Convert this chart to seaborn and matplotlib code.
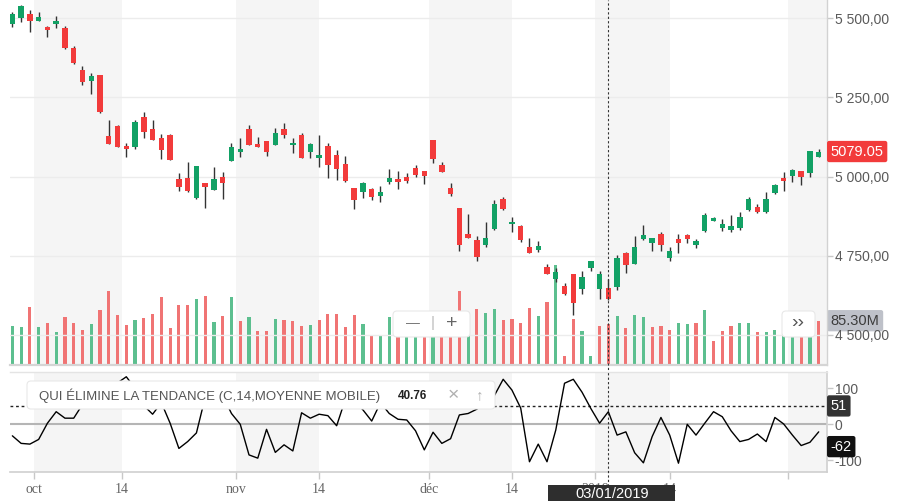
import numpy as np
import pandas as pd
import matplotlib
matplotlib.use("Agg")
import matplotlib.pyplot as plt
import seaborn as sns
from matplotlib.patches import FancyBboxPatch, Rectangle
from matplotlib.transforms import Affine2D, blended_transform_factory

# ---------------- data ----------------
sessions = pd.bdate_range("2018-09-26", "2019-02-06")
sessions = sessions[~sessions.isin(pd.to_datetime(["2018-12-25", "2018-12-26", "2019-01-01"]))]

opens = [5482, 5500, 5514, 5492, 5473, 5483, 5470, 5407, 5338, 5303,
         5322, 5128, 5161, 5097, 5094, 5188, 5150, 5123, 5132, 4992,
         4995, 4931, 4980, 4958, 4998, 5050, 5078, 5150, 5103, 5112,
         5101, 5150, 5099, 5131, 5078, 5060, 5096, 5068, 5040, 4964,
         4952, 4960, 4939, 4984, 4992, 4999, 5027, 5017, 5115, 5036,
         4963, 4901, 4818, 4799, 4784, 4833, 4928, 4849, 4844, 4776,
         4768, 4715, 4677, 4654, 4692, 4645, 4710, 4645, 4649, 4650,
         4759, 4724, 4803, 4791, 4818, 4744, 4803, 4815, 4784, 4829,
         4860, 4836, 4831, 4836, 4894, 4903, 4889, 4947, 4994, 5002,
         5017, 5012, 5061]
highs = [5521, 5542, 5526, 5519, 5476, 5507, 5476, 5412, 5348, 5327,
         5322, 5179, 5163, 5107, 5179, 5204, 5179, 5133, 5133, 5010,
         5045, 5034, 4980, 5029, 5013, 5105, 5122, 5162, 5125, 5112,
         5153, 5168, 5121, 5138, 5105, 5131, 5105, 5084, 5065, 4964,
         4984, 4963, 4970, 5023, 5017, 5010, 5037, 5017, 5115, 5045,
         4979, 4901, 4882, 4812, 4855, 4926, 4936, 4871, 4847, 4805,
         4797, 4724, 4711, 4664, 4692, 4701, 4733, 4701, 4675, 4752,
         4762, 4813, 4847, 4806, 4824, 4776, 4817, 4818, 4803, 4886,
         4871, 4865, 4878, 4887, 4934, 4913, 4950, 4975, 5015, 5023,
         5017, 5082, 5086]
lows = [5472, 5488, 5458, 5490, 5440, 5469, 5402, 5355, 5290, 5260,
        5200, 5102, 5093, 5061, 5086, 5121, 5115, 5056, 5051, 4955,
        4951, 4928, 4900, 4958, 4930, 5050, 5061, 5101, 5094, 5066,
        5099, 5121, 5073, 5060, 5058, 5029, 4994, 4989, 4982, 4896,
        4931, 4926, 4919, 4976, 4960, 4980, 4998, 4975, 5042, 5015,
        4938, 4765, 4807, 4734, 4776, 4830, 4894, 4826, 4792, 4757,
        4762, 4691, 4667, 4625, 4563, 4629, 4701, 4612, 4610, 4641,
        4694, 4724, 4800, 4765, 4765, 4733, 4759, 4789, 4773, 4826,
        4859, 4827, 4824, 4831, 4892, 4884, 4884, 4945, 4955, 4984,
        4973, 4998, 5061]
closes = [5514, 5540, 5492, 5504, 5464, 5491, 5405, 5359, 5300, 5318,
          5205, 5103, 5094, 5088, 5172, 5142, 5116, 5085, 5052, 4968,
          4954, 5034, 4968, 4991, 4981, 5094, 5088, 5101, 5094, 5077,
          5138, 5132, 5107, 5060, 5103, 5068, 5035, 5024, 4985, 4926,
          4980, 4936, 4951, 4995, 4984, 4986, 5006, 5003, 5056, 5015,
          4944, 4784, 4807, 4747, 4805, 4913, 4897, 4857, 4800, 4757,
          4780, 4692, 4698, 4629, 4601, 4683, 4733, 4692, 4613, 4742,
          4720, 4776, 4815, 4805, 4784, 4765, 4789, 4803, 4797, 4878,
          4870, 4849, 4844, 4871, 4928, 4889, 4929, 4972, 4987, 5021,
          4999, 5081.6, 5079.05]
volumes_m = [75.4, 73.5, 112.9, 73.5, 81.3, 63.6, 93.2, 81.3, 67.0, 78.2,
             106.4, 144.4, 97.1, 76.8, 86.7, 91.2, 99.1, 132.6, 71.5, 116.8,
             116.8, 128.6, 134.5, 82.1, 95.1, 132.6, 85.3, 93.2, 65.6, 65.6,
             88.6, 86.7, 85.3, 75.4, 77.4, 87.3, 99.1, 99.1, 73.5, 97.1,
             79.4, 55.7, 57.7, 93.2, 80.0, 75.0, 85.0, 78.0, 100.0, 90.0,
             85.0, 144.4, 57.0, 107.7, 99.9, 107.7, 86.7, 88.6, 81.3, 110.9,
             94.5, 122.7, 195.0, 15.8, 88.6, 65.6, 15.8, 75.4, 78.2, 95.1,
             71.5, 96.5, 92.0, 73.5, 74.8, 67.0, 81.3, 78.8, 81.3, 106.4,
             45.9, 65.6, 75.4, 81.3, 81.3, 63.0, 63.0, 67.0, 70.0, 72.0,
             68.0, 90.0, 85.3]
dpo = [-32, -53, -55, -42, 3, 35, 17, 17, 55, 80,
       100, 112, 115, 132, 100, 52, 28, 60, 3, -67,
       -48, -24, 75, 100, 80, 30, 0, -85, -94, -14,
       -78, -57, -74, 32, 17, 28, 24, -4, 70, 65,
       40, 9, 60, 30, 14, 12, -18, -71, -22, -53,
       -40, 26, 30, 42, 65, 80, 125, 95, 45, -104,
       -55, -104, -16, 114, 125, 89, 44, 3, 35, -30,
       -21, -79, -107, -34, 19, -30, -108, 0, -30, 3,
       35, 21, -18, -48, -42, -27, -48, 19, 1, -30,
       -59, -50, -21]

tick_pos = [2.5, 12.5, 25.5, 35.0, 47.5, 57.0, 66.5, 75.0, 88.5]
tick_labels = ["oct", "14", "nov", "14", "déc", "14", "2019", "14", ""]
price_ticks = [4500, 4750, 5000, 5250, 5500]
price_tick_labels = ["4 500,00", "4 750,00", "5 000,00", "5 250,00", "5 500,00"]
ind_ticks = [-100, 0, 100]
ind_tick_labels = ["-100", "0", "100"]
cursor_date = "2019-01-03"
cursor_value = 51
ind_last_label = -62
indicator_name = "QUI ÉLIMINE LA TENDANCE (C,14,MOYENNE MOBILE)"
indicator_value = "40.76"

df = pd.DataFrame({"date": sessions, "open": opens, "high": highs, "low": lows,
                   "close": closes, "volume": volumes_m, "dpo": dpo})
df["i"] = np.arange(len(df))
df["up"] = df["close"] >= df["open"]
df["vol_up"] = df["close"].diff().fillna(1) >= 0

# ---------------- style ----------------
sns.set_theme(style="white")
plt.rcParams["font.family"] = ["Liberation Sans", "DejaVu Sans"]

UP, DOWN = "#12a165", "#f23b3b"
VUP, VDOWN = "#5cbf8f", "#f07474"
SHADE = "#f5f5f5"
AXCOL = "#d2d2d2"

W, H = 897, 501
fig = plt.figure(figsize=(W / 100, H / 100), dpi=100)
fig.patch.set_facecolor("white")
pixb = Affine2D().scale(1 / W, 1 / H) + fig.transFigure


def rect_px(x0, y0, x1, y1):
    return [x0 / W, 1 - y1 / H, (x1 - x0) / W, (y1 - y0) / H]


L, R = 10, 826.5
ax_vol = fig.add_axes(rect_px(L, 0, R, 365))
ax_price = fig.add_axes(rect_px(L, 0, R, 365), sharex=ax_vol)
ax_ind = fig.add_axes(rect_px(L, 372.3, R, 472.3), sharex=ax_vol)
ax_vol.set_zorder(0)
ax_price.set_zorder(1)
ax_price.patch.set_visible(False)
ax_ind.set_zorder(1)

ax_vol.set_xlim(-0.27, 92.89)

# shaded half-month bands
starts = tick_pos[0::2]
ends = tick_pos[1::2] + [ax_vol.get_xlim()[1] + 1]
for a, b in zip(starts, ends):
    ax_vol.axvspan(a, b, color=SHADE, lw=0, zorder=0)
    ax_ind.axvspan(a, b, color=SHADE, lw=0, zorder=0)

# volume
ax_vol.bar(df["i"], df["volume"], width=0.36,
           color=np.where(df["vol_up"], VUP, VDOWN), lw=0, zorder=1)
ax_vol.set_ylim(-2, 717)
ax_vol.set_yticks([])
ax_vol.tick_params(axis="x", bottom=False, labelbottom=False)
for s in ax_vol.spines.values():
    s.set_visible(False)

# candles
ax_price.vlines(df["i"], df["low"], df["high"], color="#333333", lw=1, zorder=2)
body_lo = np.minimum(df["open"], df["close"])
body_h = np.maximum(np.abs(df["close"] - df["open"]), 3)
ax_price.bar(df["i"], body_h, bottom=body_lo, width=0.62,
             color=np.where(df["up"], UP, DOWN), lw=0, zorder=3)
ax_price.set_ylim(4404.6, 5557.8)
ax_price.set_yticks(price_ticks, price_tick_labels)
ax_price.yaxis.tick_right()
ax_price.tick_params(axis="y", right=True, left=False, length=4, width=1, color="#c8c8c8",
                     labelsize=10, labelcolor="#5a5a5a", pad=2)
ax_price.tick_params(axis="x", bottom=False, labelbottom=False)
ax_price.grid(axis="y", color="#ececec", lw=1)
ax_price.grid(axis="x", visible=False)
ax_price.set_axisbelow(True)
for k in ("top", "left"):
    ax_price.spines[k].set_visible(False)
ax_price.spines["right"].set_color(AXCOL)
ax_price.spines["right"].set_linewidth(1)
ax_price.spines["bottom"].set_color("#d5d5d5")
ax_price.spines["bottom"].set_linewidth(1.6)

# indicator
ax_ind.axhline(0, color="#b5b5b5", lw=1.5, zorder=1)
sns.lineplot(x=df["i"], y=df["dpo"], ax=ax_ind, color="black", lw=1, zorder=3)
ax_ind.axhline(cursor_value, color="#222222", lw=1, ls=(0, (2, 2)), zorder=2)
ax_ind.set_ylim(-133.3, 144.4)
ax_ind.set_yticks(ind_ticks, ind_tick_labels)
ax_ind.yaxis.tick_right()
ax_ind.set_xlabel("")
ax_ind.set_ylabel("")
ax_ind.tick_params(axis="y", right=True, left=False, length=4, width=1, color="#c8c8c8",
                   labelsize=10, labelcolor="#5a5a5a", pad=2)
ax_ind.set_xticks(tick_pos, tick_labels)
ax_ind.tick_params(axis="x", bottom=True, length=5, width=1, color="#c8c8c8",
                   labelsize=10, labelcolor="#666666", pad=3)
for lab in ax_ind.get_xticklabels():
    lab.set_fontfamily("Liberation Serif")
ax_ind.spines["left"].set_visible(False)
ax_ind.spines["top"].set_color("#e4e4e4")
ax_ind.spines["top"].set_linewidth(1)
ax_ind.spines["bottom"].set_color("#cfcfcf")
ax_ind.spines["bottom"].set_linewidth(1.2)
ax_ind.spines["right"].set_color(AXCOL)
ax_ind.grid(False)

# crosshair
ci = int(df.index[df["date"] == pd.Timestamp(cursor_date)][0])
ax_price.axvline(ci, ymin=-0.025, ymax=1, clip_on=False, color="#333333", lw=0.8,
                 ls=(0, (2, 2)), zorder=4)
ax_ind.axvline(ci, ymin=-0.14, ymax=1, clip_on=False, color="#333333", lw=0.8,
               ls=(0, (2, 2)), zorder=4)

# right-side value labels
def side_label(ax, y, text, fc, tc, weight="normal"):
    tr = blended_transform_factory(ax.transAxes, ax.transData)
    ax.annotate(text, xy=(1, y), xycoords=tr, xytext=(3, 0), textcoords="offset points",
                ha="left", va="center", fontsize=10.5, color=tc, annotation_clip=False,
                fontweight=weight,
                bbox=dict(boxstyle="round,pad=0.25,rounding_size=0.15", fc=fc, ec="none"),
                zorder=20)

side_label(ax_price, df["close"].iloc[-1], f"{df['close'].iloc[-1]:.2f}", "#f23b3b", "white")
side_label(ax_vol, df["volume"].iloc[-1], f"{df['volume'].iloc[-1]:.2f}M", "#bec1c9", "#3c3c3c")
side_label(ax_ind, cursor_value, f"{cursor_value}", "#333333", "white")
side_label(ax_ind, ind_last_label, f"{ind_last_label}", "#111111", "white")

# UI overlays (pixel coordinates from top-left)
def ui_box(x0, y0, x1, y1, fc="white", ec="#e8e8e8", r=4, z=15):
    p = FancyBboxPatch((x0, H - y1), x1 - x0, y1 - y0,
                       boxstyle=f"round,pad=0,rounding_size={r}",
                       transform=pixb, fc=fc, ec=ec, lw=0.8, zorder=z)
    fig.add_artist(p)


def ui_text(x, y, s, **kw):
    fig.text(x / W, 1 - y / H, s, zorder=16, **kw)


ui_box(393, 311, 470, 337)
ui_text(413, 323, "—", ha="center", va="center", fontsize=10, color="#777777")
ui_text(433, 323, "|", ha="center", va="center", fontsize=11, color="#bbbbbb")
ui_text(452, 323, "+", ha="center", va="center", fontsize=14, color="#666666")

ui_box(782, 311, 815, 337)
ui_text(798, 323, "››", ha="center", va="center", fontsize=14, color="#555555")

ui_box(27, 381, 495, 409)
ui_text(38.7, 395.5, indicator_name, ha="left", va="center", fontsize=9.5, color="#555555")
ui_text(398, 396, indicator_value, ha="left", va="center", fontsize=8.5,
        fontweight="bold", color="#222222")
ui_text(453, 395.5, "×", ha="center", va="center", fontsize=14, color="#b0b0b0")
ui_text(480, 395.5, "↑", ha="center", va="center", fontsize=11, color="#b0b0b0")

fig.add_artist(Rectangle((548, 0), 127, H - 485, transform=pixb, fc="#2e2e2e",
                         ec="none", zorder=15))
ui_text(612, 494, pd.Timestamp(cursor_date).strftime("%d/%m/%Y"), ha="center",
        va="center", fontsize=10.5, color="white")

fig.savefig("out.png", dpi=100)
